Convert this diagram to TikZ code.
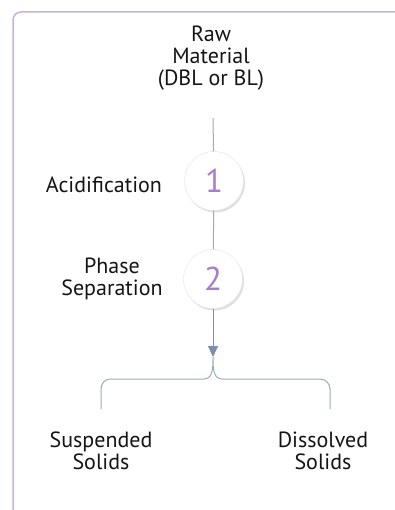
\documentclass[tikz,border=0pt]{standalone}
\usepackage{fontspec}
\setmainfont{PT Sans}
\usetikzlibrary{shadows,arrows.meta}
\definecolor{frameLilac}{HTML}{C8B0DE}
\definecolor{stemGray}{HTML}{9AAABF}
\definecolor{tipGray}{HTML}{7D8FA9}
\definecolor{stepPurple}{HTML}{A77CCB}
\definecolor{ringGray}{HTML}{E4E4E8}

\begin{document}
\begin{tikzpicture}[x=1pt,y=-1pt,font=\fontsize{22}{22}\selectfont,
  stepcircle/.style={circle,draw=ringGray,fill=white,minimum size=59pt,inner sep=0pt,
    drop shadow={shadow xshift=1.5pt,shadow yshift=-2pt,opacity=0.25},
    text=stepPurple,font=\fontsize{33}{33}\selectfont},
  steplabel/.style={align=center,text=black!92},
  stem/.style={stemGray,line width=1pt}]
  \useasboundingbox (0,0) rectangle (395,510);

  % frame on top and left
  \draw[frameLilac,line width=1.5pt,rounded corners=8pt] (13,512) -- (13,12) -- (397,12);

  % raw material and the two steps
  \node[steplabel] (raw) at (211,58) {Raw\\Material\\(DBL or BL)};
  \coordinate (start) at (213,118);
  \node[stepcircle] (one) at (214,181) {1};
  \node[stepcircle] (two) at (213,279) {2};
  \node[steplabel] (acid) at (104,185) {Acidification};
  \node[steplabel] (phase) at (112,279) {Phase\\Separation};

  \draw[stem] (start) -- (one);
  \draw[stem] (one) -- (two);

  % split into the two fractions
  \coordinate (tip) at (213,357);
  \coordinate (braceL) at (101,409);
  \coordinate (braceR) at (330,409);
  \draw[stem,-{Triangle[length=11pt,width=10pt]},tipGray] (two) -- (tip);
  \draw[stem] (braceL) -- (101,389) to[out=90,in=180] (110,379) -- (204,379)
    to[out=0,in=-90] (tip) to[out=-90,in=180] (222,379) -- (320,379)
    to[out=0,in=90] (330,389) -- (braceR);

  \node[steplabel] (susp) at (101,451) {Suspended\\Solids};
  \node[steplabel] (diss) at (323,451) {Dissolved\\Solids};
\end{tikzpicture}
\end{document}
